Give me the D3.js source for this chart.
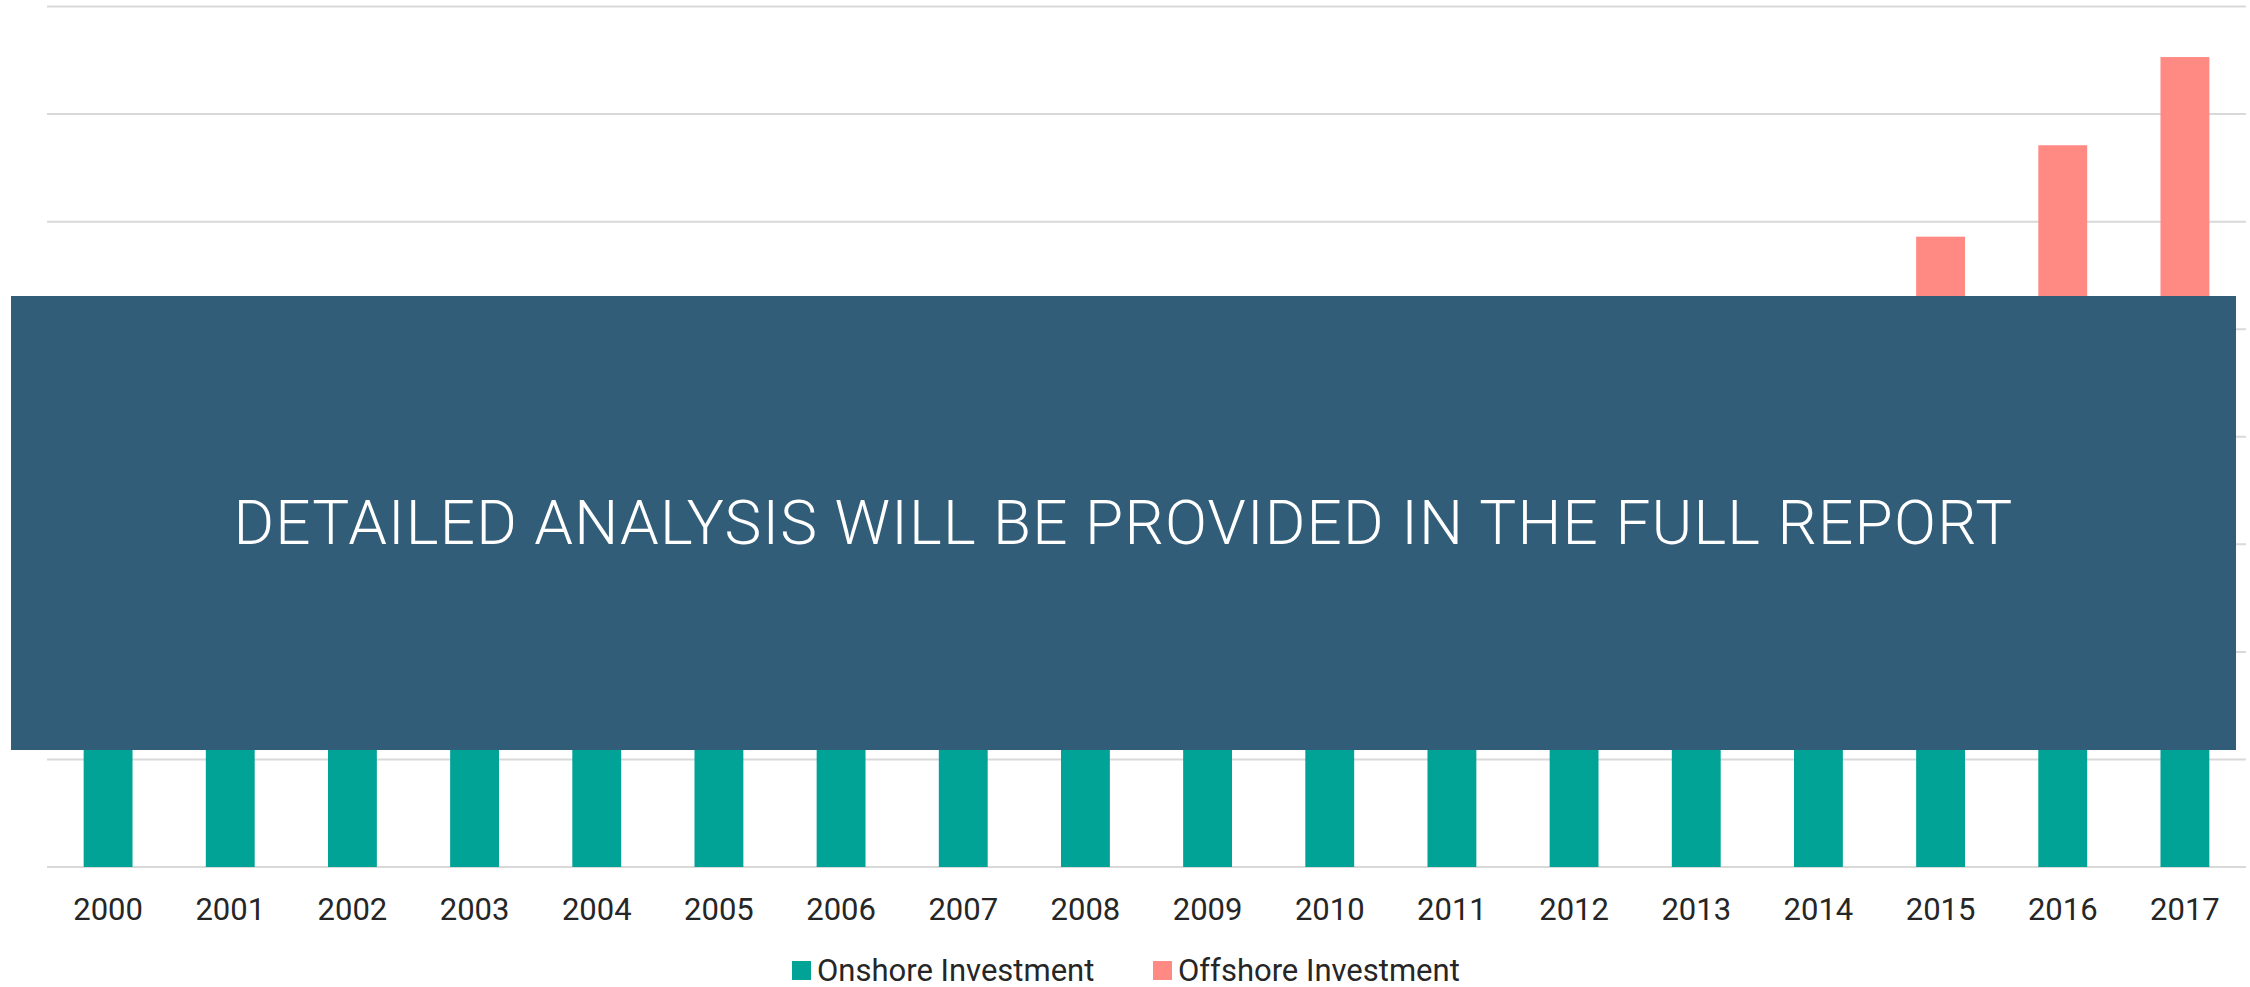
<!DOCTYPE html>
<html>
<head>
<meta charset="utf-8">
<script src="https://cdn.jsdelivr.net/npm/d3@7"></script>
<style>
  body { margin: 0; background: #fff; }
  svg { display: block; font-family: Roboto, "Noto Sans", sans-serif; }
</style>
</head>
<body>
<div id="chart"></div>
<script>
// values hidden under the banner are estimates
var years = ["2000","2001","2002","2003","2004","2005","2006","2007","2008",
             "2009","2010","2011","2012","2013","2014","2015","2016","2017"];
var onshore  = [1.6, 1.8, 2.0, 2.1, 2.3, 2.5, 2.7, 2.9, 3.1, 3.2, 3.3, 3.5, 3.6, 3.7, 3.9, 4.0, 4.1, 4.2];
var offshore = [0, 0, 0, 0, 0, 0, 0.1, 0.1, 0.2, 0.2, 0.3, 0.4, 0.5, 0.6, 0.8, 1.86, 2.61, 3.33];
var seriesNames = ["Onshore Investment", "Offshore Investment"];
var seriesColors = ["#00a396", "#ff8983"];
var yTicks = [0, 1, 2, 3, 4, 5, 6, 7, 8];
var bannerText = "DETAILED ANALYSIS WILL BE PROVIDED IN THE FULL REPORT";

var width = 2250, height = 987;
var plotLeft = 47, plotRight = 2246, plotTop = 6.5, plotBottom = 867;

var svg = d3.select("#chart").append("svg")
  .attr("width", width)
  .attr("height", height);

var x = d3.scaleBand()
  .domain(years)
  .range([plotLeft, plotRight])
  .paddingInner(0.6)
  .paddingOuter(0.3);

var y = d3.scaleLinear()
  .domain([0, 8])
  .range([plotBottom, plotTop]);

// gridlines
svg.append("g")
  .selectAll("line")
  .data(yTicks)
  .enter().append("line")
    .attr("x1", plotLeft)
    .attr("x2", plotRight)
    .attr("y1", function(d) { return y(d); })
    .attr("y2", function(d) { return y(d); })
    .attr("stroke", "#d9d9d9")
    .attr("stroke-width", 2);

// stacked bars
var rows = years.map(function(yr, i) {
  return { year: yr, onshore: onshore[i], offshore: offshore[i] };
});
var stack = d3.stack().keys(["onshore", "offshore"])(rows);

svg.append("g")
  .selectAll("g")
  .data(stack)
  .enter().append("g")
    .attr("fill", function(d, i) { return seriesColors[i]; })
  .selectAll("rect")
  .data(function(d) { return d; })
  .enter().append("rect")
    .attr("x", function(d) { return x(d.data.year); })
    .attr("width", x.bandwidth())
    .attr("y", function(d) { return y(d[1]); })
    .attr("height", function(d) { return y(d[0]) - y(d[1]); });

// x axis labels
var xAxis = svg.append("g")
  .attr("transform", "translate(0," + plotBottom + ")")
  .call(d3.axisBottom(x).tickSize(0).tickPadding(53));
xAxis.select(".domain").remove();
xAxis.selectAll("text")
  .attr("dy", 0)
  .style("font-size", "31px")
  .style("font-family", "Roboto, sans-serif")
  .attr("fill", "#262626");

// legend
var legendX = [792, 1153];
var legend = svg.append("g")
  .selectAll("g")
  .data(seriesNames)
  .enter().append("g")
    .attr("transform", function(d, i) { return "translate(" + legendX[i] + ",961)"; });
legend.append("rect")
  .attr("width", 19)
  .attr("height", 19)
  .attr("fill", function(d, i) { return seriesColors[i]; });
legend.append("text")
  .attr("x", 25)
  .attr("y", 19.5)
  .style("font-size", "31px")
  .attr("fill", "#262626")
  .text(function(d) { return d; });

// banner overlay
svg.append("rect")
  .attr("x", 11)
  .attr("y", 296)
  .attr("width", 2236 - 11)
  .attr("height", 750 - 296)
  .attr("fill", "#325d79");

svg.append("text")
  .attr("x", (11 + 2236) / 2)
  .attr("y", 544)
  .attr("text-anchor", "middle")
  .style("font-size", "62px")
  .style("font-weight", 300)
  .style("letter-spacing", "1.2px")
  .attr("fill", "#ffffff")
  .text(bannerText);
</script>
</body>
</html>
